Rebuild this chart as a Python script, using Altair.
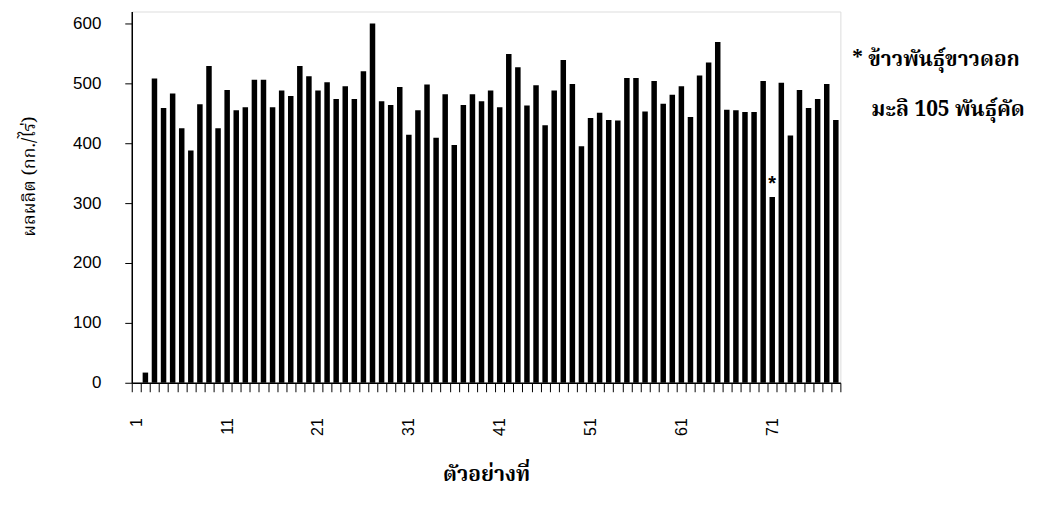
import altair as alt
import pandas as pd

samples = list(range(1, 79))
yields = [0, 17,
          508, 459, 483, 425, 388, 465, 529, 425, 489, 455, 460, 506, 506, 460, 488, 479, 529, 512, 488, 502, 474, 495, 474, 520, 600,
          470, 464, 494, 414, 455, 498, 409, 482, 397, 464, 482, 470, 488, 460, 549, 527, 463, 497, 430, 488, 539, 499, 395, 442,
          451, 439, 438, 509, 509, 453, 504, 466, 481, 495, 444, 513, 535, 569, 456, 455, 452, 452, 504, 310, 501, 413, 489, 459, 474, 499, 439]
marked_sample = [71]
legend_lines = ["* ข้าวพันธุ์ขาวดอก", "มะลิ 105 พันธุ์คัด"]
y_ticks = [0, 100, 200, 300, 400, 500, 600]

df = pd.DataFrame({"sample": samples, "yield": yields})
star_df = df[df["sample"].isin(marked_sample)]

thai_font = "Noto Serif Thai, Noto Sans Thai, Norasi, Loma, Garuda, TLWG Typo, sans-serif"
num_font = "Liberation Sans, Arial, sans-serif"

x_enc = alt.X("sample:O", sort=samples,
              scale=alt.Scale(paddingInner=0, paddingOuter=0),
              axis=alt.Axis(title="ตัวอย่างที่", labelAngle=-90, tickBand="extent",
                            labelExpr="(datum.value - 1) % 10 == 0 ? datum.label : ''",
                            labelOverlap=False, labelFont=num_font, labelFontSize=16,
                            labelColor="black", labelPadding=26, tickSize=9,
                            tickColor="black", domainColor="black", domainWidth=1.5,
                            titleFont=thai_font, titleFontSize=21, titleFontWeight="bold",
                            titleColor="black", titleY=92, titleBaseline="middle"))
y_enc = alt.Y("yield:Q", scale=alt.Scale(domain=[0, 620], nice=False),
              axis=alt.Axis(title="ผลผลิต (กก./ไร่)", values=y_ticks, grid=False,
                            labelFont=num_font, labelFontSize=17, labelColor="black",
                            labelPadding=24, tickSize=7, tickColor="black",
                            domainColor="black", domainWidth=1.5,
                            titleFont=thai_font, titleFontSize=18, titleFontWeight="normal",
                            titleColor="black", titleX=-102, titleY=165,
                            titleAlign="center", titleBaseline="middle"))

bars = alt.Chart(df).mark_bar(color="black", size=5.5).encode(x=x_enc, y=y_enc)

star = alt.Chart(star_df).mark_text(text="*", fontSize=20, fontWeight="bold",
                                    baseline="bottom", dy=-3, font=num_font,
                                    color="black").encode(x=alt.X("sample:O", sort=samples),
                                                          y="yield:Q")

legend_layers = []
legend_pos = [(722, 49), (741, 99)]
for line, (px, py) in zip(legend_lines, legend_pos):
    legend_layers.append(
        alt.Chart(pd.DataFrame({"line": [line]})).mark_text(
            align="left", baseline="middle", font=thai_font, fontSize=21,
            fontWeight="bold", color="black").encode(
            text="line:N", x=alt.value(px), y=alt.value(py))
    )

chart = alt.layer(bars, star, *legend_layers).properties(
    width=710, height=372,
    autosize=alt.AutoSizeParams(type="none"),
    padding={"left": 124, "top": 3, "right": 190, "bottom": 130},
).configure_view(stroke="black", strokeWidth=1.5).configure(background="white")

chart.save("out.html", embed_options={"renderer": "svg", "actions": False})
